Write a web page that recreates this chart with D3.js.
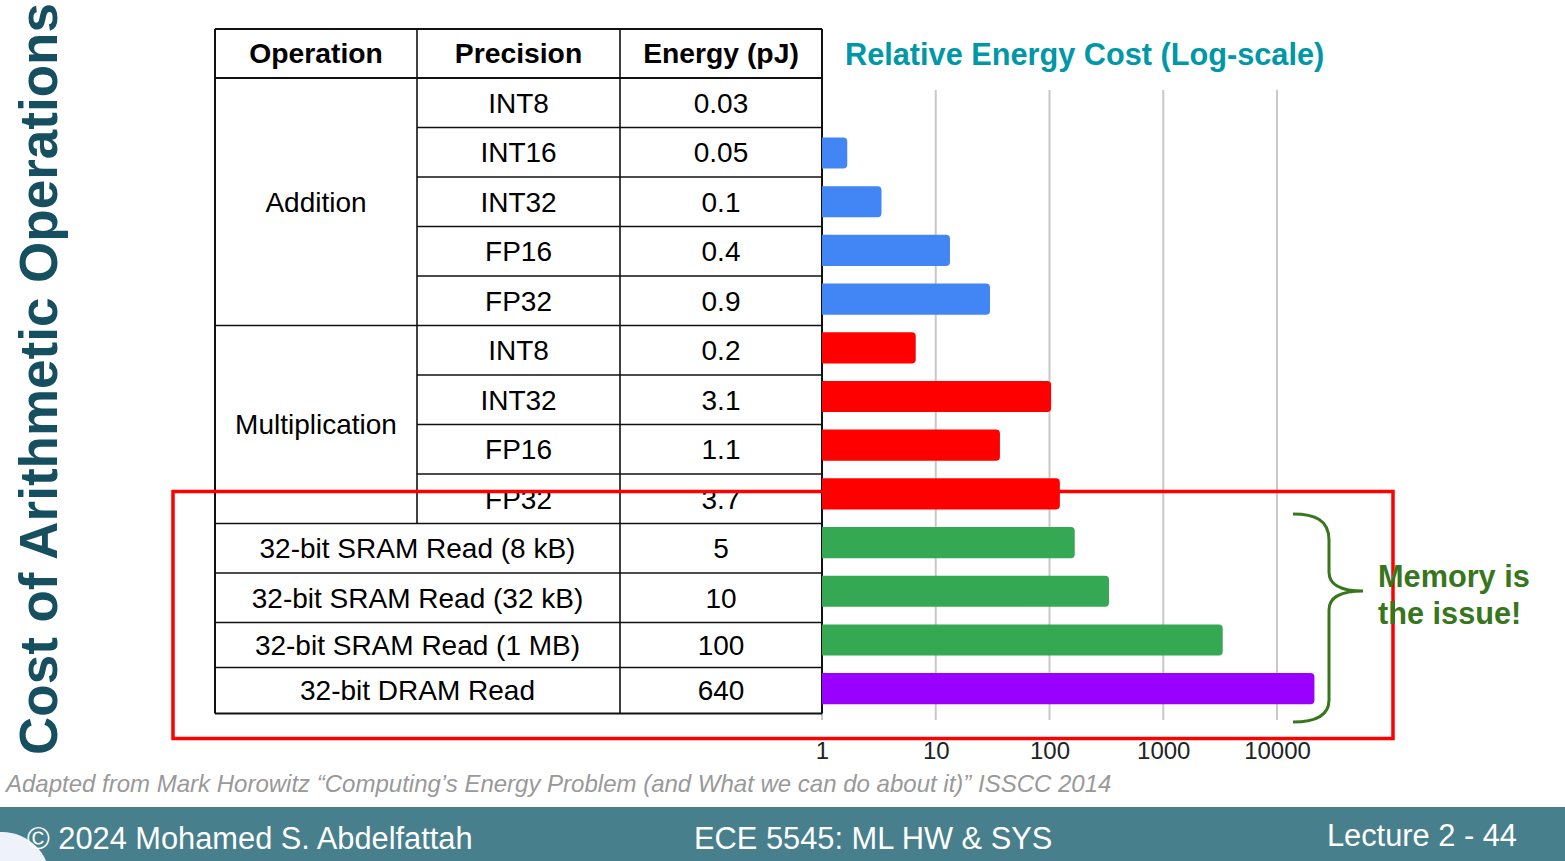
<!DOCTYPE html>
<html>
<head>
<meta charset="utf-8">
<script src="https://cdn.jsdelivr.net/npm/d3@7"></script>
<style>
  html, body { margin: 0; padding: 0; background: #fff; }
  svg { display: block; font-family: "Liberation Sans", Arial, sans-serif; }
</style>
</head>
<body>
<svg id="chart" width="1565" height="861"></svg>
<script>
// ---------------- DATA ----------------
const headers = ["Operation", "Precision", "Energy (pJ)"];
const operations = ["Addition", "Addition", "Addition", "Addition", "Addition",
  "Multiplication", "Multiplication", "Multiplication", "Multiplication",
  "32-bit SRAM Read (8 kB)", "32-bit SRAM Read (32 kB)", "32-bit SRAM Read (1 MB)", "32-bit DRAM Read"];
const precisions = ["INT8", "INT16", "INT32", "FP16", "FP32",
  "INT8", "INT32", "FP16", "FP32", "", "", "", ""];
const energyLabels = ["0.03", "0.05", "0.1", "0.4", "0.9", "0.2", "3.1", "1.1", "3.7", "5", "10", "100", "640"];
const energy = [0.03, 0.05, 0.1, 0.4, 0.9, 0.2, 3.1, 1.1, 3.7, 5, 10, 100, 640];
const groups = ["add", "add", "add", "add", "add", "mul", "mul", "mul", "mul", "mem", "mem", "mem", "dram"];
const axisTicks = [1, 10, 100, 1000, 10000];
const chartTitle = "Relative Energy Cost (Log-scale)";
const sideTitle = "Cost of Arithmetic Operations";
const noteLines = ["Memory is", "the issue!"];
const sourceText = "Adapted from Mark Horowitz \u201CComputing\u2019s Energy Problem (and What we can do about it)\u201D ISSCC 2014";
const footerLeft = "\u00A9 2024 Mohamed S. Abdelfattah";
const footerMid = "ECE 5545: ML HW & SYS";
const footerRight = "Lecture 2 - 44";

// relative cost = energy / energy of the cheapest op (INT8 add)
const relative = energy.map(e => e / energy[0]);

// ---------------- LAYOUT / STYLE ----------------
const colors = { add: "#4285f4", mul: "#ff0000", mem: "#34a853", dram: "#9900ff" };
const tableCols = [215, 417, 620, 822];
const headerTop = 29, headerBottom = 78;
const rowHeights = [49.5, 49.5, 49.5, 49.5, 49.5, 49.5, 49.5, 49.5, 49.5, 49.5, 49.5, 45, 46];

const svg = d3.select("#chart");

// side title
svg.append("text")
  .attr("transform", "translate(57,755) rotate(-90)")
  .attr("font-size", 53).attr("font-weight", "bold")
  .attr("fill", "#164f5f")
  .text(sideTitle);

// ---------------- SCALES ----------------
const x = d3.scaleLog().domain([1, 10000]).range([822, 1277]);
const y = d3.scaleBand().domain(d3.range(energy.length)).range([80, 713])
  .paddingInner(0.36).paddingOuter(0.18);

// gridlines
svg.append("g").selectAll("line").data(axisTicks).join("line")
  .attr("x1", d => x(d)).attr("x2", d => x(d))
  .attr("y1", 90).attr("y2", 720)
  .attr("stroke", "#c8c8c8").attr("stroke-width", 2);

// axis labels via d3 axis
const axisG = svg.append("g").attr("transform", "translate(0,740)")
  .call(d3.axisBottom(x).tickValues(axisTicks).tickFormat(d3.format("d")).tickSize(0).tickPadding(0));
axisG.select(".domain").remove();
axisG.selectAll("text").attr("font-size", 24).attr("fill", "#222")
  .attr("font-family", "Liberation Sans, Arial, sans-serif").attr("dy", "0.8em");

// chart title
svg.append("text").attr("x", 845).attr("y", 65)
  .attr("font-size", 30.7).attr("font-weight", "bold").attr("fill", "#0097a7")
  .text(chartTitle);

// ---------------- TABLE ----------------
const rowEdges = [headerBottom];
rowHeights.forEach(h => rowEdges.push(rowEdges[rowEdges.length - 1] + h));
const tableG = svg.append("g");
const lineCol = "#111";

// header
headers.forEach((h, i) => {
  tableG.append("text")
    .attr("x", (tableCols[i] + tableCols[i + 1]) / 2)
    .attr("y", (headerTop + headerBottom) / 2)
    .attr("dy", "0.35em").attr("text-anchor", "middle")
    .attr("font-size", 28.3).attr("font-weight", "bold").attr("fill", "#000")
    .text(h);
});

// energy column text
energyLabels.forEach((t, i) => {
  tableG.append("text")
    .attr("x", (tableCols[2] + tableCols[3]) / 2)
    .attr("y", (rowEdges[i] + rowEdges[i + 1]) / 2)
    .attr("dy", "0.35em").attr("text-anchor", "middle")
    .attr("font-size", 28).attr("fill", "#000").text(t);
});
// precision / op column text
const spans = [];
operations.forEach((op, i) => {
  const last = spans[spans.length - 1];
  if (precisions[i] !== "" && last && last.op === op && last.merged) { last.end = i; }
  else spans.push({ op, start: i, end: i, merged: precisions[i] !== "" });
});
spans.forEach(s => {
  const cx = s.merged ? (tableCols[0] + tableCols[1]) / 2 : (tableCols[0] + tableCols[2]) / 2;
  tableG.append("text")
    .attr("x", cx)
    .attr("y", (rowEdges[s.start] + rowEdges[s.end + 1]) / 2)
    .attr("dy", "0.35em").attr("text-anchor", "middle")
    .attr("font-size", 28).attr("fill", "#000").text(s.op);
});
precisions.forEach((p, i) => {
  if (!p) return;
  tableG.append("text")
    .attr("x", (tableCols[1] + tableCols[2]) / 2)
    .attr("y", (rowEdges[i] + rowEdges[i + 1]) / 2)
    .attr("dy", "0.35em").attr("text-anchor", "middle")
    .attr("font-size", 28).attr("fill", "#000").text(p);
});

// lines
const L = (x1, y1, x2, y2, w) => tableG.append("line")
  .attr("x1", x1).attr("y1", y1).attr("x2", x2).attr("y2", y2)
  .attr("stroke", lineCol).attr("stroke-width", w || 1.6);
const tableBottom = rowEdges[rowEdges.length - 1];
L(tableCols[0], headerTop, tableCols[3], headerTop, 2);
L(tableCols[0], headerBottom, tableCols[3], headerBottom, 1.8);
L(tableCols[0], tableBottom, tableCols[3], tableBottom, 2);
L(tableCols[0], headerTop, tableCols[0], tableBottom, 2);
L(tableCols[3], headerTop, tableCols[3], tableBottom, 2);
L(tableCols[2], headerTop, tableCols[2], tableBottom);
const precRows = precisions.map((p, i) => p ? i : -1).filter(i => i >= 0);
L(tableCols[1], headerTop, tableCols[1], rowEdges[d3.max(precRows) + 1]);
for (let i = 1; i < rowEdges.length - 1; i++) {
  const sameOpAbove = operations[i] === operations[i - 1] && precisions[i] !== "";
  L(sameOpAbove ? tableCols[1] : tableCols[0], rowEdges[i], tableCols[3], rowEdges[i]);
}

// red highlight box
svg.append("rect").attr("x", 173).attr("y", 491.5).attr("width", 1220).attr("height", 247)
  .attr("fill", "none").attr("stroke", "#ff0000").attr("stroke-width", 3.5);

// ---------------- BARS ----------------
function barPath(x0, y0, w, h, r) {
  if (w <= 0) return "";
  r = Math.min(r, w, h / 2);
  return `M${x0},${y0}H${x0 + w - r}Q${x0 + w},${y0} ${x0 + w},${y0 + r}V${y0 + h - r}Q${x0 + w},${y0 + h} ${x0 + w - r},${y0 + h}H${x0}Z`;
}
svg.append("g").selectAll("path").data(relative).join("path")
  .attr("d", (d, i) => barPath(x(1), y(i), x(d) - x(1), y.bandwidth(), 4))
  .attr("fill", (d, i) => colors[groups[i]]);

// brace
const brace = "M1293,514 C1315,514 1329,520 1329,540 L1329,572 C1329,585 1340,591 1363,591 C1340,591 1329,597 1329,610 L1329,700 C1329,716 1315,722 1293,722";
svg.append("path").attr("d", brace).attr("fill", "none")
  .attr("stroke", "#38761d").attr("stroke-width", 3);

const note = svg.append("text").attr("font-size", 30.7).attr("font-weight", "bold").attr("fill", "#38761d");
noteLines.forEach((t, i) => note.append("tspan").attr("x", 1378).attr("y", 587 + i * 37).text(t));

// source
svg.append("text").attr("x", 6).attr("y", 792)
  .attr("font-size", 24).attr("font-style", "italic").attr("fill", "#999999")
  .text(sourceText);

// ---------------- FOOTER ----------------
svg.append("rect").attr("x", 0).attr("y", 807).attr("width", 1565).attr("height", 54).attr("fill", "#47808c");
svg.append("circle").attr("cx", 2).attr("cy", 880).attr("r", 48).attr("fill", "#eef2fa");
svg.append("text").attr("x", 27).attr("y", 849).attr("font-size", 30.8).attr("fill", "#fff").text(footerLeft);
svg.append("text").attr("x", 694).attr("y", 849).attr("font-size", 30.8).attr("fill", "#fff").text(footerMid);
svg.append("text").attr("x", 1517).attr("y", 846).attr("text-anchor", "end").attr("font-size", 30.8).attr("fill", "#fff").text(footerRight);
</script>
</body>
</html>
